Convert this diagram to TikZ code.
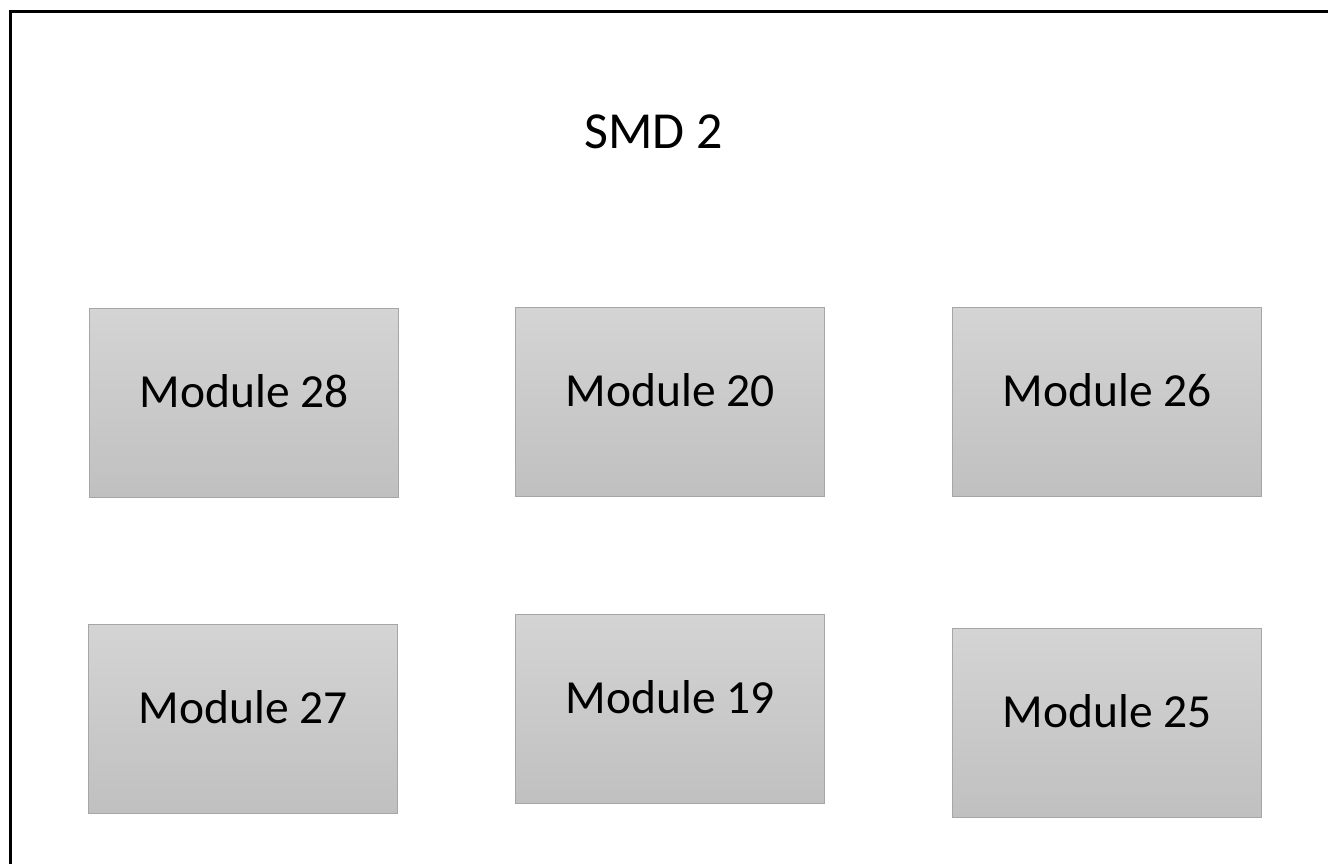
\documentclass[tikz,border=0pt]{standalone}
\usepackage{fontspec}
\setmainfont{Carlito}
\usepackage{xcolor}
\usetikzlibrary{positioning, calc}

\definecolor{boxtop}{RGB}{212,212,212}
\definecolor{boxbot}{RGB}{192,192,192}
\definecolor{boxline}{RGB}{166,166,166}

\tikzset{
  modbox/.style={draw=boxline, line width=1.2pt, top color=boxtop, bottom color=boxbot,
    minimum width=309pt, minimum height=189pt, inner sep=0pt, anchor=north west},
  modtext/.style={font=\fontsize{47.5}{57}\selectfont, anchor=base, inner sep=0pt}
}

\begin{document}
\begin{tikzpicture}[x=1pt, y=-1pt]
\useasboundingbox (0,0) rectangle (1328,863);
\clip (0,0) rectangle (1328,863);

% Outer frame, runs off the right and bottom
\draw[line width=3pt] (10.5,11.5) rectangle (1345,880);

% Title
\node[font=\fontsize{52}{62}\selectfont, anchor=base, inner sep=0pt] (smd) at (653.5,148) {SMD 2};

% Modules: x, y (top left), number
\foreach \x/\y/\n in {89/308/28, 515/307/20, 952/307/26, 88/624/27, 515/614/19, 952/628/25} {
  \node[modbox] (m\n) at (\x,\y) {};
  \node[modtext] (t\n) at ([yshift=-99pt]m\n.north) {Module \n};
}
\end{tikzpicture}
\end{document}
